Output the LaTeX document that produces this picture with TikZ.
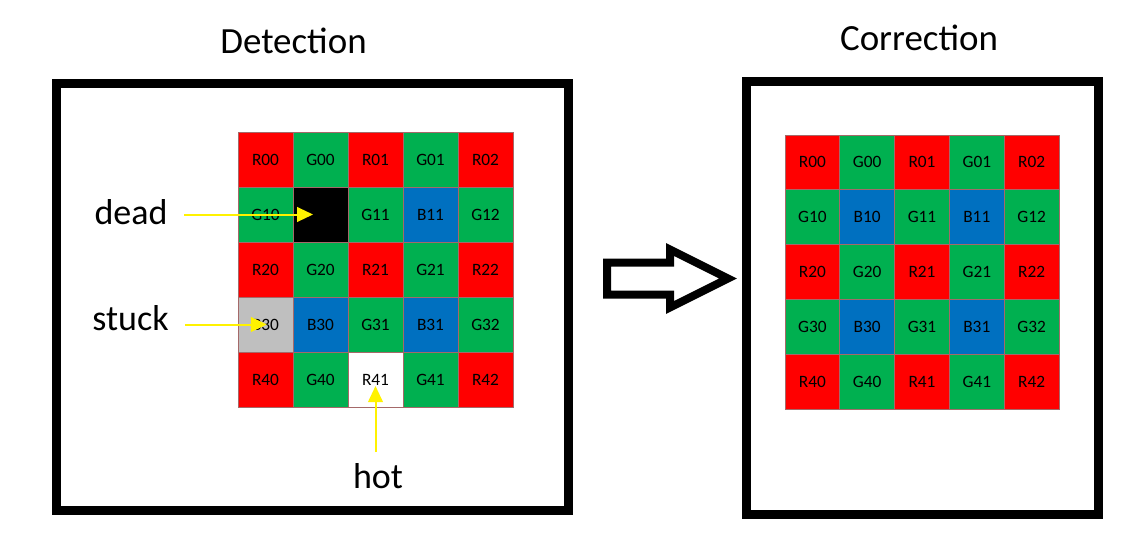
\documentclass[tikz,border=0pt]{standalone}
\usepackage{fontspec}
\setmainfont{Carlito}
\usetikzlibrary{arrows.meta, positioning}

\definecolor{pxred}{RGB}{255,0,0}
\definecolor{pxgreen}{RGB}{0,176,80}
\definecolor{pxblue}{RGB}{0,112,192}
\definecolor{pxgray}{RGB}{191,191,191}
\definecolor{pxedge}{RGB}{165,105,105}

\begin{document}
\begin{tikzpicture} [x=0.75pt, y=-0.75pt,
			cell/.style={draw=pxedge, line width=0.75pt,
				minimum size=41.25pt, inner sep=0pt,
				font=\fontsize{13}{15}\selectfont},
			frame/.style={draw=black, line width=6.75pt},
			title/.style={font=\fontsize{27.7}{32}\selectfont,
				inner sep=0pt, anchor=base},
			pxlabel/.style={font=\fontsize{27}{32}\selectfont,
				inner sep=0pt, anchor=base},
			pointer/.style={draw=yellow, line width=1.5pt,
				-{Triangle[length=12pt, width=11pt]}},
		]
		\useasboundingbox (0,0) rectangle (1141,539);

		% Frames
		\draw [frame] (56.5,83.5) rectangle (568,510.5);
		\draw [frame] (746.5,81.5) rectangle (1098.5,514);

		% Titles
		\node (dettitle) [title] at (293.5,53.5) {Detection};
		\node (cortitle) [title] at (919,50) {Correction};

		% Bayer grids
		\foreach \r in {0,...,4}
		\foreach \c in {0,...,4} {
				\pgfmathtruncatemacro{\k}{\c/2}
				\pgfmathtruncatemacro{\t}{mod(\r,2)*2+mod(\c,2)}
				\ifcase\t \def\lt{R}\def\fc{pxred}
				\or \def\lt{G}\def\fc{pxgreen}
				\or \def\lt{G}\def\fc{pxgreen}
				\or \def\lt{B}\def\fc{pxblue}\fi
				\node (L-\r-\c) [cell, fill=\fc]
				at ({265.5+55*\c},{159.5+55*\r}) {\lt\r\k};
				\node (R-\r-\c) [cell, fill=\fc, minimum size=41.1pt]
				at ({812.4+54.8*\c},{162.4+54.8*\r}) {\lt\r\k};
			}

		% Defective pixels
		\node (deadpx) [cell, fill=black] at (L-1-1) {};
		\node (stuckpx) [cell, fill=pxgray] at (L-3-0) {B30};
		\node (hotpx) [cell, fill=white] at (L-4-2) {R41};

		% Labels
		\node (deadlab) [pxlabel] at (131,224) {dead};
		\node (stucklab) [pxlabel] at (130.5,330) {stuck};
		\node (hotlab) [pxlabel] at (378,488) {hot};

		% Pointers
		\draw [pointer] ([xshift=12.5pt]deadlab.east |- deadpx.center)
		-- ([xshift=-5.6pt]deadpx.center);
		\draw [pointer] ([xshift=12pt]stucklab.east |- stuckpx.center)
		-- ([xshift=1pt]stuckpx.center);
		\draw [pointer] ([yshift=8pt]hotlab.north -| hotpx.center)
		-- ([yshift=-4.9pt]hotpx.center);

		% Big arrow
		\draw [line width=6pt, line join=miter]
		(607,262.5) -- (670,262.5) -- (670,249.5) -- (728,278.5)
		-- (670,307.5) -- (670,294.5) -- (607,294.5) -- cycle;
	\end{tikzpicture}
\end{document}
